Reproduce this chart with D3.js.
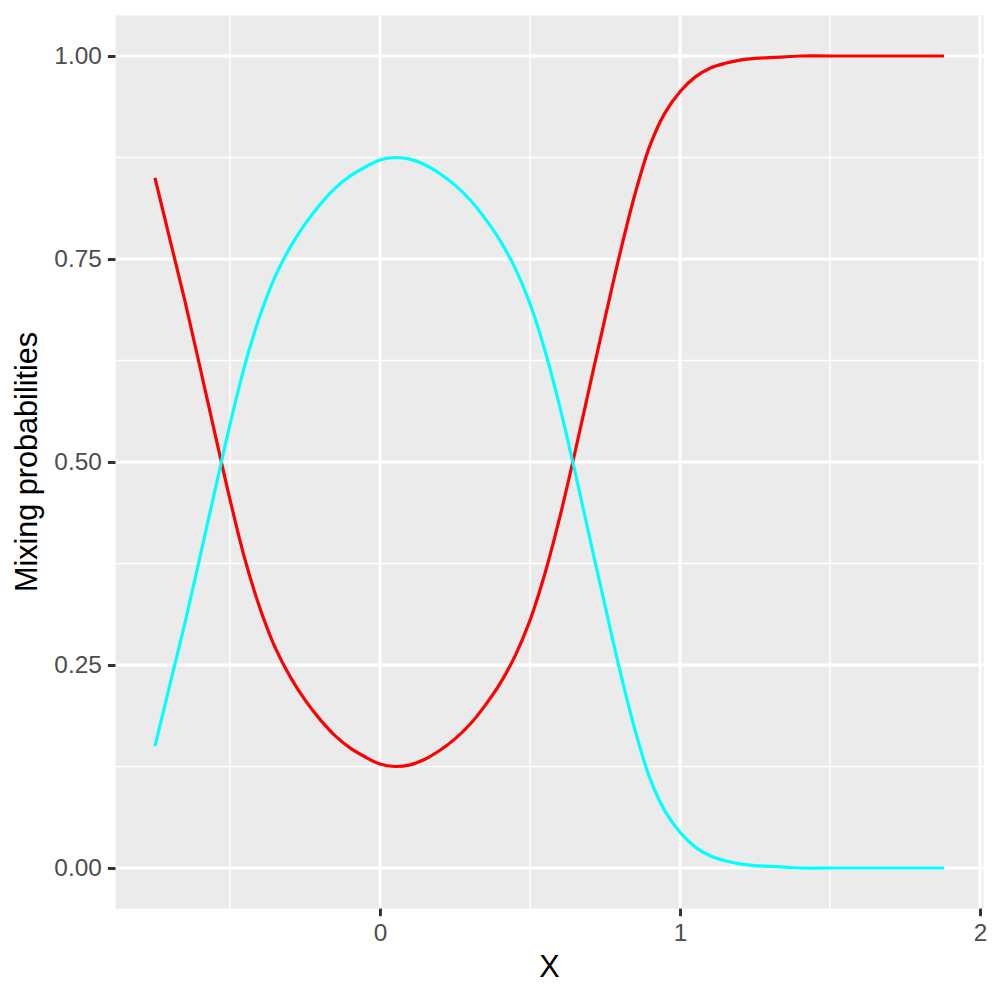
<!DOCTYPE html>
<html>
<head>
<meta charset="utf-8">
<script src="https://cdn.jsdelivr.net/npm/d3@7"></script>
<style>
  body { margin: 0; background: #fff; }
  text { font-family: "Liberation Sans", Arial, Helvetica, sans-serif; }
</style>
</head>
<body>
<div id="vis"></div>
<script>
// values
let xs = [-0.75, -0.70, -0.65, -0.60, -0.55, -0.50, -0.45, -0.40, -0.35, -0.30,
  -0.25, -0.20, -0.15, -0.10, -0.05, 0.00, 0.05, 0.10, 0.15, 0.20,
  0.25, 0.30, 0.35, 0.40, 0.45, 0.50, 0.55, 0.60, 0.65, 0.70,
  0.75, 0.80, 0.85, 0.90, 0.95, 1.00, 1.05, 1.10, 1.15, 1.20,
  1.25, 1.30, 1.35, 1.40, 1.50, 1.60, 1.70, 1.80, 1.88];

let redVals = [0.850, 0.774, 0.698, 0.617, 0.535, 0.454, 0.380, 0.320, 0.272, 0.236,
  0.207, 0.183, 0.163, 0.148, 0.137, 0.128, 0.125, 0.127, 0.134, 0.145,
  0.159, 0.177, 0.200, 0.227, 0.261, 0.305, 0.363, 0.433, 0.512, 0.595,
  0.677, 0.757, 0.830, 0.890, 0.930, 0.956, 0.974, 0.985, 0.991, 0.995,
  0.997, 0.998, 0.999, 1.000, 1.000, 1.000, 1.000, 1.000, 1.000];

let cyanVals = [0.150, 0.226, 0.302, 0.383, 0.465, 0.546, 0.620, 0.680, 0.728, 0.764,
  0.793, 0.817, 0.837, 0.852, 0.863, 0.872, 0.875, 0.873, 0.866, 0.855,
  0.841, 0.823, 0.800, 0.773, 0.739, 0.695, 0.637, 0.567, 0.488, 0.405,
  0.323, 0.243, 0.170, 0.110, 0.070, 0.044, 0.026, 0.015, 0.009, 0.005,
  0.003, 0.002, 0.001, 0.000, 0.000, 0.000, 0.000, 0.000, 0.000];

let xTicks = [0, 1, 2];
let xMinor = [-0.5, 0.5, 1.5];
let yTicks = [0, 0.25, 0.5, 0.75, 1];
let yMinor = [0.125, 0.375, 0.625, 0.875];

let seriesColors = ["red", "cyan"];

let margin = { top: 15.4, left: 115.5, right: 16.5, bottom: 91.4 },
  width = 1000 - margin.left - margin.right,
  height = 1000 - margin.top - margin.bottom;

let svg = d3.select('#vis')
  .append('svg')
  .attr('width', 1000)
  .attr('height', 1000);

// ggplot style 5% expansion
let xExt = d3.extent(xs), xPad = (xExt[1] - xExt[0]) * 0.05;
let xScale = d3.scaleLinear().domain([xExt[0] - xPad, xExt[1] + xPad]).range([0, width]);
let yScale = d3.scaleLinear().domain([-0.05, 1.05]).range([height, 0]);

let g = svg.append('g')
  .attr('transform', 'translate(' + margin.left + ',' + margin.top + ')');

// panel
g.append('rect')
  .attr('width', width)
  .attr('height', height)
  .attr('fill', '#EBEBEB');

// minor grid
g.selectAll('.xminor').data(xMinor).enter().append('line')
  .attr('x1', d => xScale(d)).attr('x2', d => xScale(d))
  .attr('y1', 0).attr('y2', height)
  .attr('stroke', '#fff').attr('stroke-width', 1.5);
g.selectAll('.yminor').data(yMinor).enter().append('line')
  .attr('x1', 0).attr('x2', width)
  .attr('y1', d => yScale(d)).attr('y2', d => yScale(d))
  .attr('stroke', '#fff').attr('stroke-width', 1.5);

// major grid
g.selectAll('.xmajor').data(xTicks).enter().append('line')
  .attr('x1', d => xScale(d)).attr('x2', d => xScale(d))
  .attr('y1', 0).attr('y2', height)
  .attr('stroke', '#fff').attr('stroke-width', 2.96);
g.selectAll('.ymajor').data(yTicks).enter().append('line')
  .attr('x1', 0).attr('x2', width)
  .attr('y1', d => yScale(d)).attr('y2', d => yScale(d))
  .attr('stroke', '#fff').attr('stroke-width', 2.96);

// lines
let line = d3.line()
  .x(d => xScale(d[0]))
  .y(d => yScale(d[1]))
  .curve(d3.curveCatmullRom.alpha(0.5));

[redVals, cyanVals].forEach(function (vals, i) {
  g.append('path')
    .datum(xs.map((x, j) => [x, vals[j]]))
    .attr('d', line)
    .attr('fill', 'none')
    .attr('stroke', seriesColors[i])
    .attr('stroke-width', 3.2);
});

// axes
let xAxis = g.append('g')
  .attr('transform', 'translate(0,' + height + ')')
  .call(d3.axisBottom(xScale).tickValues(xTicks).tickFormat(d3.format('d')).tickSize(7.6).tickPadding(7));
let yAxis = g.append('g')
  .call(d3.axisLeft(yScale).tickValues(yTicks).tickFormat(d3.format('.2f')).tickSize(7.6).tickPadding(6.1));

[xAxis, yAxis].forEach(function (a) {
  a.select('.domain').remove();
  a.selectAll('.tick line').attr('stroke', '#333333').attr('stroke-width', 2.96);
  a.selectAll('.tick text')
    .attr('fill', '#4D4D4D')
    .style('font-size', '24.4px')
    .style('font-family', '"Liberation Sans", Arial, sans-serif');
});

// titles
svg.append('text')
  .attr('x', margin.left + width / 2)
  .attr('y', 976.7)
  .attr('text-anchor', 'middle')
  .style('font-size', '30.6px')
  .text('X');

svg.append('text')
  .attr('text-anchor', 'middle')
  .attr('transform', 'translate(36.7,' + (margin.top + height / 2) + ')rotate(-90)')
  .style('font-size', '30.6px')
  .text('Mixing probabilities');
</script>
</body>
</html>
